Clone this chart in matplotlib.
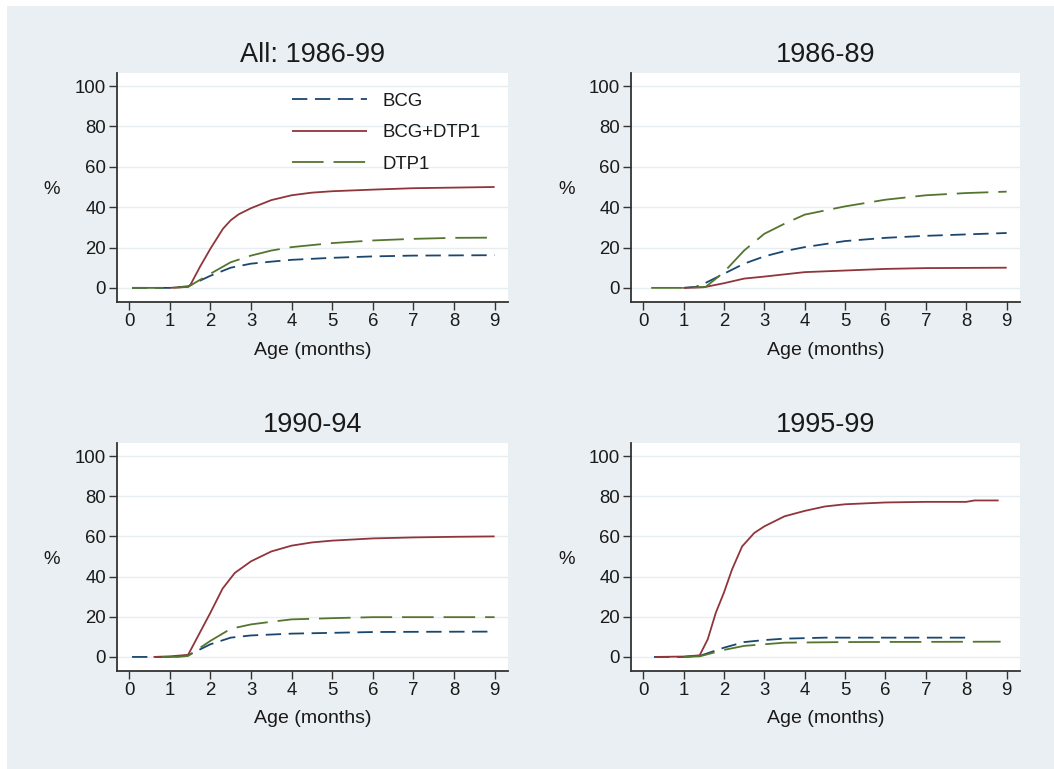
import matplotlib
matplotlib.use("Agg")
import matplotlib.pyplot as plt
from matplotlib.patches import Rectangle

plt.rcParams['font.family'] = ['Liberation Sans', 'DejaVu Sans']

# ---------------- data ----------------
titles = ["All: 1986-99", "1986-89", "1990-94", "1995-99"]
series_names = ["BCG", "BCG+DTP1", "DTP1"]

# Panel 1: All 1986-99
p1_bcg_x = [0.07, 1.0, 1.45, 2.0, 2.5, 3.0, 3.5, 4.0, 5.0, 6.0, 7.0, 8.0, 9.0]
p1_bcg_y = [0.0, 0.0, 0.8, 6.0, 10.0, 12.0, 13.0, 13.9, 14.9, 15.6, 16.0, 16.1, 16.2]
p1_both_x = [1.0, 1.45, 1.5, 1.74, 2.0, 2.31, 2.5, 2.7, 3.0, 3.5, 4.0, 4.5, 5.0, 6.0, 7.0, 8.0, 9.0]
p1_both_y = [0.0, 0.5, 1.2, 10.3, 19.4, 29.3, 33.5, 36.5, 39.5, 43.5, 45.9, 47.2, 47.9, 48.7, 49.4, 49.7, 50.0]
p1_dtp_x = [0.07, 1.0, 1.45, 2.0, 2.5, 3.0, 3.5, 4.0, 5.0, 6.0, 7.0, 8.0, 9.0]
p1_dtp_y = [0.0, 0.0, 0.5, 7.0, 12.7, 16.0, 18.5, 20.2, 22.2, 23.5, 24.3, 24.8, 24.9]

# Panel 2: 1986-89
p2_bcg_x = [1.0, 1.3, 1.5, 2.0, 2.5, 3.0, 3.5, 4.0, 5.0, 6.0, 7.0, 8.0, 9.0]
p2_bcg_y = [0.0, 0.5, 2.0, 7.0, 12.0, 15.6, 18.2, 20.2, 23.2, 24.8, 25.8, 26.5, 27.2]
p2_both_x = [1.0, 1.5, 2.0, 2.5, 3.0, 4.0, 5.0, 6.0, 7.0, 8.0, 9.0]
p2_both_y = [0.0, 0.3, 2.3, 4.6, 5.6, 7.8, 8.6, 9.4, 9.8, 9.9, 10.0]
p2_dtp_x = [0.2, 1.0, 1.55, 2.0, 2.5, 3.0, 3.5, 4.0, 5.0, 6.0, 7.0, 8.0, 9.0]
p2_dtp_y = [0.0, 0.0, 0.5, 7.8, 18.5, 26.8, 31.8, 36.3, 40.4, 43.7, 45.9, 47.0, 47.7]

# Panel 3: 1990-94
p3_bcg_x = [0.07, 1.0, 1.45, 2.0, 2.5, 3.0, 4.0, 5.0, 6.0, 7.0, 8.83]
p3_bcg_y = [0.0, 0.0, 0.8, 6.3, 9.6, 10.7, 11.6, 12.0, 12.4, 12.5, 12.6]
p3_both_x = [0.6, 1.0, 1.45, 2.0, 2.3, 2.6, 3.0, 3.5, 4.0, 4.5, 5.0, 6.0, 7.0, 8.0, 9.0]
p3_both_y = [0.0, 0.3, 1.0, 22.0, 34.0, 41.8, 47.6, 52.5, 55.4, 57.0, 57.9, 59.0, 59.5, 59.8, 60.0]
p3_dtp_x = [0.8, 1.2, 1.45, 2.0, 2.5, 3.0, 3.5, 4.0, 5.0, 6.0, 7.0, 9.0]
p3_dtp_y = [0.0, 0.0, 0.5, 8.0, 14.0, 16.2, 17.5, 18.7, 19.3, 19.8, 19.8, 19.8]

# Panel 4: 1995-99
p4_bcg_x = [0.27, 1.0, 1.4, 2.0, 2.5, 3.0, 3.5, 4.5, 6.0, 8.1]
p4_bcg_y = [0.0, 0.0, 0.5, 4.6, 7.4, 8.4, 9.1, 9.6, 9.6, 9.6]
p4_both_x = [0.3, 1.0, 1.4, 1.6, 1.8, 2.0, 2.2, 2.45, 2.75, 3.0, 3.5, 4.0, 4.5, 5.0, 6.0, 7.0, 8.0, 8.2, 8.8]
p4_both_y = [0.0, 0.2, 0.8, 8.8, 22.0, 32.0, 43.5, 55.0, 61.7, 65.0, 70.0, 72.7, 74.9, 76.0, 76.9, 77.2, 77.2, 77.9, 77.9]
p4_dtp_x = [1.0, 1.4, 2.0, 2.5, 3.0, 3.5, 5.0, 7.0, 8.85]
p4_dtp_y = [0.0, 0.3, 3.5, 5.5, 6.3, 7.1, 7.4, 7.5, 7.6]

panels = [
    [(p1_bcg_x, p1_bcg_y), (p1_both_x, p1_both_y), (p1_dtp_x, p1_dtp_y)],
    [(p2_bcg_x, p2_bcg_y), (p2_both_x, p2_both_y), (p2_dtp_x, p2_dtp_y)],
    [(p3_bcg_x, p3_bcg_y), (p3_both_x, p3_both_y), (p3_dtp_x, p3_dtp_y)],
    [(p4_bcg_x, p4_bcg_y), (p4_both_x, p4_both_y), (p4_dtp_x, p4_dtp_y)],
]

x_ticks = [0, 1, 2, 3, 4, 5, 6, 7, 8, 9]
y_ticks = [0, 20, 40, 60, 80, 100]

# ---------------- styling ----------------
BG = "#e9eff2"
GRID = "#e6eef1"
colors = ["#1a476f", "#90353b", "#55752f"]
lw = 1.3
styles = [(0, (8.5, 4.2)), "-", (0, (17.5, 5.5))]

W, H = 1054, 769
fig = plt.figure(figsize=(W / 100, H / 100), dpi=100)
fig.patch.set_facecolor("white")
fig.patches.append(Rectangle((7 / W, 0), 1 - 7 / W, 1 - 6 / H, transform=fig.transFigure,
                             facecolor=BG, edgecolor="none", zorder=-10))

# axes rectangles in pixels: left, top, right, bottom
boxes = [(117, 73, 508, 302), (631, 73, 1020, 302), (117, 443, 508, 671), (631, 443, 1020, 671)]

AXC = "#333333"
TXT = "#1a1a1a"

for i, (l, t, r, b) in enumerate(boxes):
    ax = fig.add_axes([l / W, (H - b) / H, (r - l) / W, (b - t) / H])
    ax.set_facecolor("white")
    for j, (xs, ys) in enumerate(panels[i]):
        ax.plot(xs, ys, color=colors[j], lw=lw, linestyle=styles[j], label=series_names[j],
                solid_capstyle="butt", dash_capstyle="butt")
    ax.set_xlim(-0.3, 9.33)
    ax.set_ylim(-7, 106.5)
    ax.set_xticks(x_ticks)
    ax.set_yticks(y_ticks)
    ax.set_xticklabels([str(v) for v in x_ticks])
    ax.set_yticklabels([str(v) for v in y_ticks])
    ax.yaxis.grid(True, color=GRID, lw=1.0)
    ax.set_axisbelow(True)
    for s in ["top", "right"]:
        ax.spines[s].set_visible(False)
    for s in ["left", "bottom"]:
        ax.spines[s].set_color(AXC)
        ax.spines[s].set_linewidth(1.3)
    ax.tick_params(axis="both", direction="out", length=5.5, width=1.0, color=AXC,
                   labelsize=13.4, labelcolor=TXT, pad=2.5)
    ax.set_title(titles[i], fontsize=19.5, color=TXT, pad=8)
    ax.set_xlabel("Age (months)", fontsize=14, color=TXT)
    ax.xaxis.set_label_coords(0.5, -0.21)
    ax.xaxis.label.set_va("center")
    ax.set_ylabel("%", fontsize=13.4, color=TXT, rotation=0)
    ax.yaxis.set_label_coords(-0.166, 0.49)
    ax.yaxis.label.set_va("center")
    ax.yaxis.label.set_ha("center")
    if i == 0:
        ax.legend(loc="upper left", bbox_to_anchor=(0.448, 0.913), frameon=False,
                  fontsize=13.4, handlelength=4.0, handletextpad=0.85,
                  labelspacing=0.77, borderpad=0, borderaxespad=0, labelcolor=TXT)

fig.savefig("out.png", dpi=100, facecolor=fig.get_facecolor())
